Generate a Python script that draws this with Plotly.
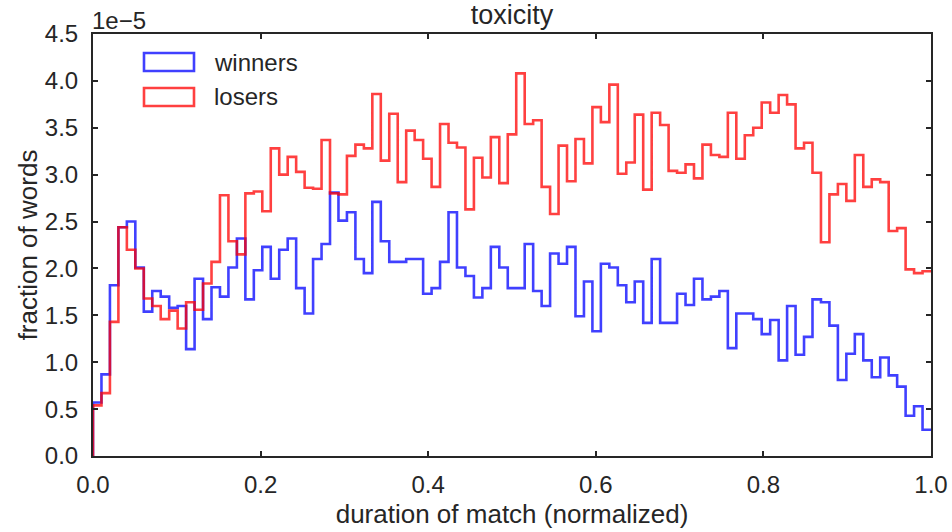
import numpy as np
import plotly.graph_objects as go

# Histogram bin edges: 99 bins over [0, 1]
bin_edges = np.linspace(0.0, 1.0, 100)

# Heights of each bin, in units of 1e-5 (fraction of words)
winners = [0.57, 0.87, 1.82, 2.44, 2.50, 2.01, 1.54, 1.76, 1.70, 1.58,
           1.60, 1.14, 1.89, 1.46, 1.80, 1.70, 2.01, 2.32, 1.67, 1.98,
           2.23, 1.89, 2.20, 2.32, 1.79, 1.52, 2.10, 2.26, 2.81, 2.51,
           2.60, 2.10, 1.95, 2.71, 2.29, 2.07, 2.07, 2.10, 2.10, 1.73,
           1.79, 2.07, 2.60, 2.01, 1.92, 1.69, 1.79, 2.23, 2.01, 1.79,
           1.79, 2.26, 1.76, 1.60, 2.16, 2.05, 2.23, 1.49, 1.86, 1.33,
           2.05, 2.01, 1.82, 1.64, 1.86, 1.42, 2.10, 1.42, 1.42, 1.73,
           1.61, 1.89, 1.67, 1.70, 1.76, 1.15, 1.52, 1.52, 1.46, 1.30,
           1.45, 1.02, 1.60, 1.08, 1.27, 1.67, 1.64, 1.39, 0.81, 1.09,
           1.30, 1.02, 0.84, 1.05, 0.86, 0.74, 0.43, 0.53, 0.28]

losers = [0.54, 0.67, 1.43, 2.44, 2.20, 2.00, 1.68, 1.60, 1.46, 1.55,
          1.36, 1.64, 1.56, 1.84, 2.07, 2.78, 2.29, 2.15, 2.80, 2.82,
          2.61, 3.28, 3.00, 3.19, 3.03, 2.86, 2.85, 3.37, 2.80, 2.79,
          3.20, 3.32, 3.28, 3.86, 3.15, 3.65, 2.92, 3.47, 3.37, 3.17,
          2.87, 3.54, 3.34, 3.29, 2.63, 3.18, 2.97, 3.40, 2.91, 3.43,
          4.08, 3.54, 3.58, 2.87, 2.58, 3.31, 2.93, 3.38, 3.12, 3.72,
          3.56, 3.96, 3.01, 3.13, 3.64, 2.84, 3.66, 3.53, 3.04, 3.02,
          3.11, 2.96, 3.32, 3.21, 3.19, 3.66, 3.17, 3.42, 3.50, 3.77,
          3.66, 3.85, 3.75, 3.28, 3.34, 3.02, 2.28, 2.79, 2.90, 2.72,
          3.21, 2.87, 2.95, 2.92, 2.40, 2.43, 1.99, 1.95, 1.97]

series_names = ["winners", "losers"]
series_colors = ["rgba(0,0,255,0.75)", "rgba(255,0,0,0.75)"]

x_ticks = [0.0, 0.2, 0.4, 0.6, 0.8, 1.0]
y_ticks = [0.0, 0.5, 1.0, 1.5, 2.0, 2.5, 3.0, 3.5, 4.0, 4.5]

FONT = "Liberation Sans, Arial, Helvetica, sans-serif"
TXT = "#262626"


def step_outline(edges, heights):
    # step outline: rise from 0 at the left edge, then one step per bin
    xs = [edges[0]] + list(edges[:-1]) + [edges[-1]]
    ys = [0.0] + list(heights) + [heights[-1]]
    return xs, ys


fig = go.Figure()
for name, vals, col in zip(series_names, [winners, losers], series_colors):
    xs, ys = step_outline(bin_edges, vals)
    fig.add_trace(go.Scatter(x=xs, y=ys, mode="lines", name=name,
                             line=dict(color=col, width=2.6, shape="hv"),
                             showlegend=False, hoverinfo="skip"))

# Manual legend mimicking matplotlib patch handles
for i, (name, col) in enumerate(zip(series_names, series_colors)):
    y0 = 1 - (19 + 35 * i) / 422.0
    y1 = 1 - (37 + 35 * i) / 422.0
    fig.add_shape(type="rect", xref="paper", yref="paper",
                  x0=51 / 838.0, x1=101 / 838.0, y0=y1, y1=y0,
                  line=dict(color=col, width=2.6), fillcolor="rgba(0,0,0,0)")
    fig.add_annotation(xref="paper", yref="paper", x=119 / 838.0,
                       y=(y0 + y1) / 2, text=name, showarrow=False,
                       xanchor="left", yanchor="middle",
                       font=dict(family=FONT, size=24, color=TXT))

# offset text
fig.add_annotation(xref="paper", yref="paper", x=0, y=1, text="1e\u22125",
                   showarrow=False, xanchor="left", yanchor="bottom",
                   yshift=-2, xshift=-3,
                   font=dict(family=FONT, size=24, color=TXT))

axis_common = dict(showline=True, linecolor=TXT, linewidth=2, mirror="ticks",
                   ticks="inside", ticklen=5, tickwidth=1.5, tickcolor=TXT,
                   showgrid=False, zeroline=False, automargin=False,
                   layer="above traces",
                   tickfont=dict(family=FONT, size=24, color=TXT))

fig.update_layout(
    width=952, height=532,
    margin=dict(l=93, r=21, t=34, b=76, autoexpand=False),
    paper_bgcolor="white", plot_bgcolor="white",
    title=dict(text="toxicity", x=0.5, xanchor="center", y=0.972,
               yanchor="middle", xref="paper",
               font=dict(family=FONT, size=27, color=TXT)),
    xaxis=dict(range=[0, 1], tickvals=x_ticks,
               ticktext=[f"{v:.1f}" for v in x_ticks],
               title=dict(text="duration of match (normalized)", standoff=8,
                          font=dict(family=FONT, size=26, color=TXT)),
               **axis_common),
    yaxis=dict(range=[0, 4.5], tickvals=y_ticks,
               ticktext=[f"{v:.1f}" for v in y_ticks],
               title=dict(text="fraction of words", standoff=0,
                          font=dict(family=FONT, size=26, color=TXT)),
               **axis_common),
)
fig.update_xaxes(ticklabelstandoff=6)
fig.update_yaxes(ticklabelstandoff=8)

fig.write_html("out.html")
